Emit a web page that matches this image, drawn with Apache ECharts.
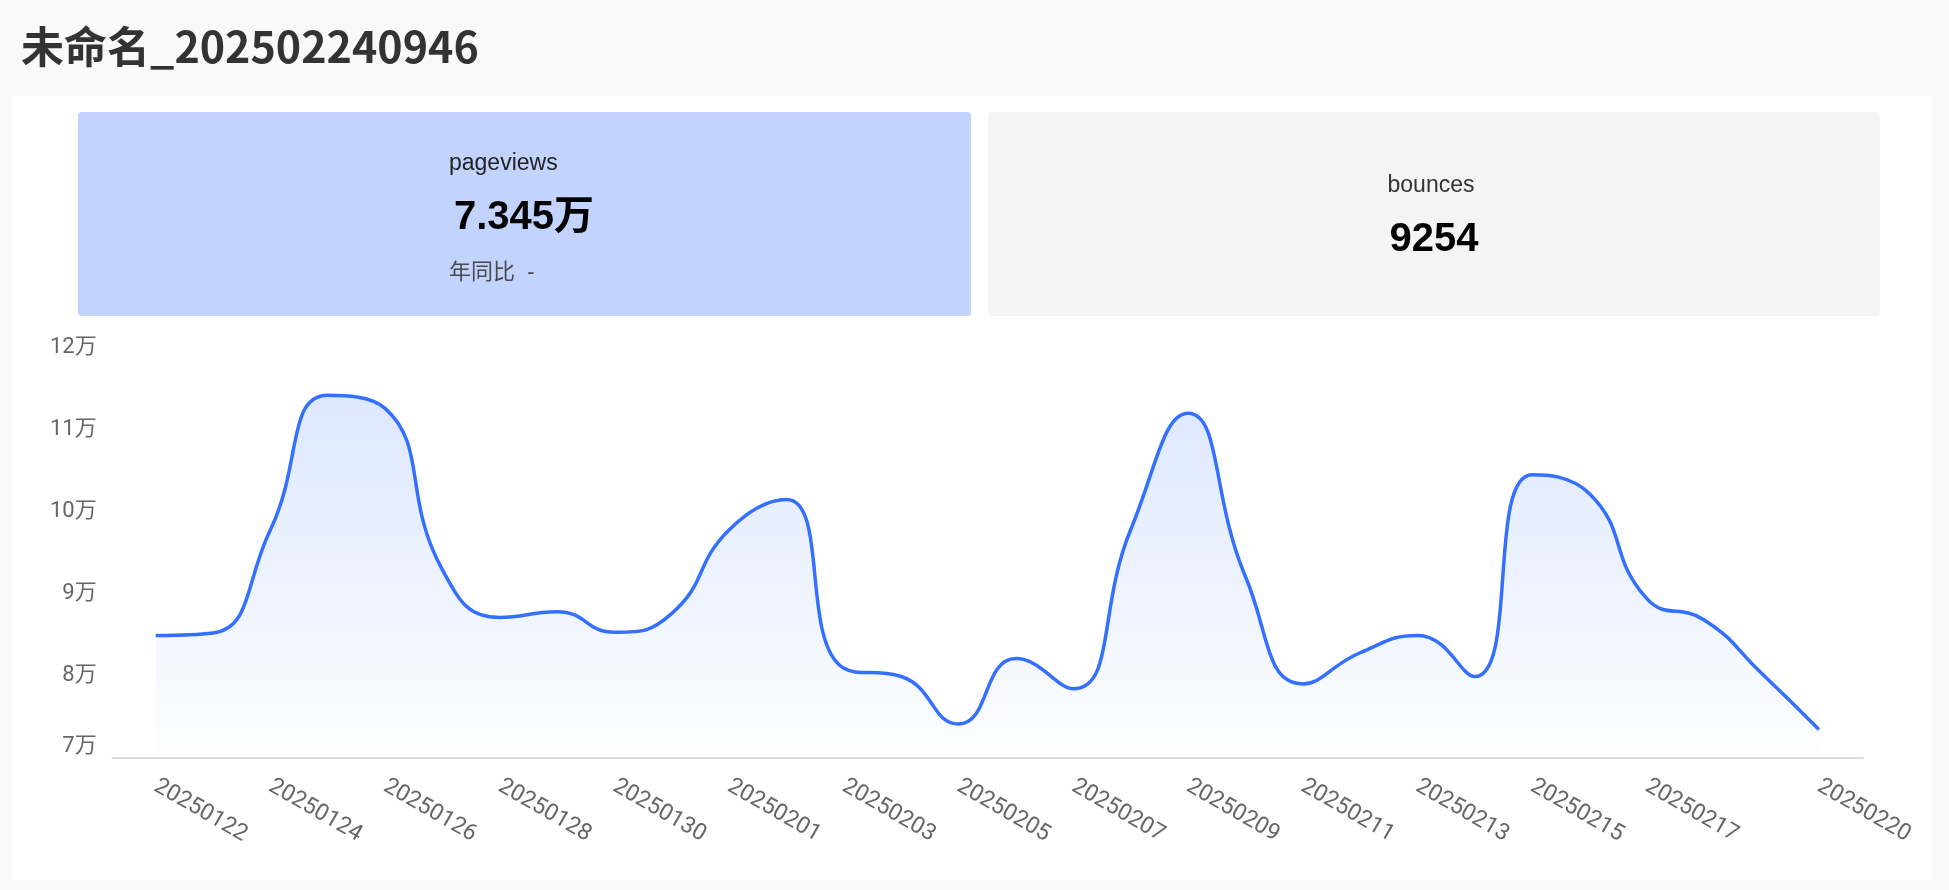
<!DOCTYPE html>
<html>
<head>
<meta charset="utf-8">
<script src="https://cdn.jsdelivr.net/npm/echarts@6/dist/echarts.min.js"></script>
<style>
html,body{margin:0;padding:0;background:#f9f9f9;}
#main{width:1949px;height:890px;}
</style>
</head>
<body>
<div id="main"></div>
<script>
// ---- data ----
const titleText = '未命名_202502240946';
const dates = ['20250122','20250123','20250124','20250125','20250126','20250127','20250128','20250129','20250130','20250131',
  '20250201','20250202','20250203','20250204','20250205','20250206','20250207','20250208','20250209','20250210',
  '20250211','20250212','20250213','20250214','20250215','20250216','20250217','20250218','20250219','20250220'];
const pageviews = [84900, 85200, 97800, 114200, 112600, 92900, 87100, 87800, 85300, 87600,
  97800, 101500, 80900, 79900, 74100, 82100, 78400, 97800, 112000, 92100,
  79000, 82800, 84900, 79900, 104500, 102200, 89400, 86800, 80300, 73450];
const kpiPageviewsLabel = 'pageviews';
const kpiPageviewsValue = '7.345万';
const kpiPageviewsCompare = '年同比  -';
const kpiBouncesLabel = 'bounces';
const kpiBouncesValue = '9254';
const yMin = 70000, yMax = 120000, yStep = 10000;

const latin = '"Liberation Sans", Arial, "Noto Sans CJK SC", sans-serif';
const axisFont = 'Roboto, "Noto Sans CJK SC", sans-serif';

const chart = echarts.init(document.getElementById('main'), null, {renderer: 'canvas'});
const lastIdx = dates.length - 1;

chart.setOption({
  backgroundColor: '#f9f9f9',
  animation: false,
  title: {
    text: titleText,
    left: 21,
    top: 25,
    padding: 0,
    textStyle: {fontSize: 43, fontWeight: 'bold', color: '#333333', fontFamily: '"Noto Sans CJK SC", sans-serif'}
  },
  graphic: [
    {type: 'rect', z: -10, shape: {x: 13, y: 96, width: 1918, height: 784}, style: {fill: '#ffffff'}},
    {type: 'rect', z: -9, shape: {x: 78, y: 112, width: 893, height: 204, r: 4}, style: {fill: '#c2d4fe'}},
    {type: 'rect', z: -9, shape: {x: 988, y: 112, width: 892, height: 204, r: 4}, style: {fill: '#f4f4f4'}},
    {type: 'text', z: 5, style: {text: kpiPageviewsLabel, x: 449, y: 164, fill: '#222222', fontSize: 23, fontFamily: latin, align: 'left', verticalAlign: 'middle'}},
    {type: 'text', z: 5, style: {text: kpiPageviewsValue, x: 454, y: 218, fill: '#000000', fontSize: 40, fontWeight: 'bold', fontFamily: latin, align: 'left', verticalAlign: 'middle'}},
    {type: 'text', z: 5, style: {text: kpiPageviewsCompare, x: 449, y: 273, fill: '#4a4a4a', fontSize: 22, fontFamily: latin, align: 'left', verticalAlign: 'middle'}},
    {type: 'text', z: 5, style: {text: kpiBouncesLabel, x: 1431, y: 186, fill: '#333333', fontSize: 23, fontFamily: latin, align: 'center', verticalAlign: 'middle'}},
    {type: 'text', z: 5, style: {text: kpiBouncesValue, x: 1434, y: 240, fill: '#000000', fontSize: 40, fontWeight: 'bold', fontFamily: latin, align: 'center', verticalAlign: 'middle'}}
  ],
  grid: [
    {left: 155.7, right: 130.1, top: 347.7, bottom: 132.3},
    {left: 112.7, right: 86.3, top: 347.7, bottom: 132.3}
  ],
  xAxis: [
    {
      gridIndex: 0, type: 'category', data: dates, boundaryGap: false,
      axisLine: {show: false}, axisTick: {show: false},
      axisLabel: {
        interval: function (i) { return (i % 2 === 0 && i <= 26) || i === lastIdx; },
        rotate: -30, margin: 27, fontSize: 23, color: '#666666', fontFamily: axisFont, hideOverlap: false
      }
    },
    {
      gridIndex: 1, type: 'category', data: dates, boundaryGap: false,
      axisLine: {show: true, lineStyle: {color: '#d9d9d9', width: 2}},
      axisTick: {show: false}, axisLabel: {show: false}, splitLine: {show: false}
    }
  ],
  yAxis: [
    {gridIndex: 0, type: 'value', min: yMin, max: yMax, interval: yStep, show: false, splitLine: {show: false}},
    {
      gridIndex: 1, type: 'value', min: yMin, max: yMax, interval: yStep,
      axisLine: {show: false}, axisTick: {show: false}, splitLine: {show: false},
      axisLabel: {
        formatter: function (v) { return (v / 10000) + '万'; },
        margin: 16, fontSize: 22, color: '#666666', fontFamily: axisFont,
        verticalAlignMinLabel: 'bottom'
      }
    }
  ],
  series: [{
    name: 'pageviews',
    type: 'line',
    xAxisIndex: 0, yAxisIndex: 0,
    data: pageviews,
    smooth: true,
    showSymbol: false,
    lineStyle: {color: '#3370ff', width: 3.5},
    itemStyle: {color: '#3370ff'},
    areaStyle: {
      color: new echarts.graphic.LinearGradient(0, 0, 0, 1, [
        {offset: 0, color: 'rgba(51,112,255,0.24)'},
        {offset: 1, color: 'rgba(51,112,255,0.01)'}
      ])
    }
  }]
});
</script>
</body>
</html>
